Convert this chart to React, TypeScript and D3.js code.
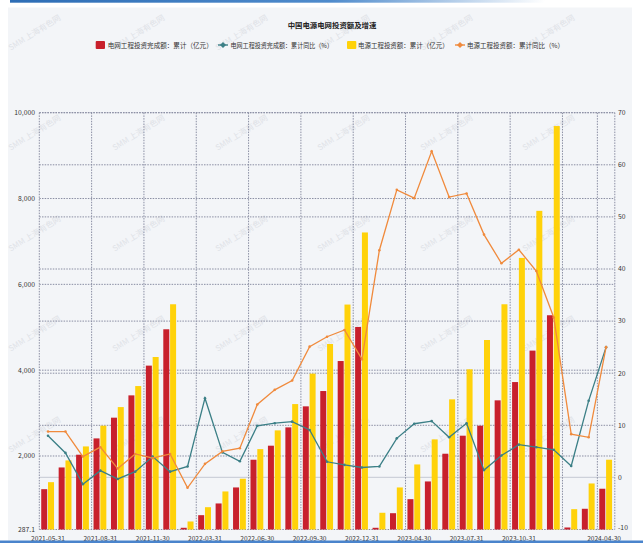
import React from "react";
import * as d3 from "d3";

const categories = [
  "2021-05-31","2021-06-30","2021-07-31","2021-08-31","2021-09-30","2021-10-31","2021-11-30","2021-12-31",
  "2022-02-28","2022-03-31","2022-04-30","2022-05-31","2022-06-30","2022-07-31","2022-08-31","2022-09-30","2022-10-31","2022-11-30","2022-12-31",
  "2023-02-28","2023-03-31","2023-04-30","2023-05-31","2023-06-30","2023-07-31","2023-08-31","2023-09-30","2023-10-31","2023-11-30","2023-12-31",
  "2024-02-29","2024-03-31","2024-04-30",
];

// 电网工程投资完成额：累计（亿元）
const gridInvest = [1227,1733,2030,2410,2893,3413,4106,4953, 327,621,894,1267,1913,2240,2667,3157,3514,4213,5007, 327,667,994,1407,2053,2473,2706,3297,3723,4456,5280, 334,770,1237];
// 电网工程投资完成额：累计同比（%）
const gridYoY = [8.0,4.7,-1.3,1.3,-0.3,1.1,4.0,1.1, 2.1,15.2,4.8,3.1,9.9,10.4,10.7,9.1,3.0,2.4,1.9, 2.1,7.5,10.3,10.8,7.7,10.4,1.4,4.2,6.3,5.8,5.3, 2.2,14.7,25.0];
// 电源工程投资额：累计（亿元）
const powerInvest = [1390,1897,2223,2706,3140,3630,4307,5536, 474,807,1174,1470,2160,2597,3210,3919,4610,5529,7209, 677,1267,1803,2387,3320,4020,4703,5536,6616,7713,9689, 761,1360,1913];
// 电源工程投资额：累计同比（%）
const powerYoY = [8.8,8.8,4.0,5.8,1.7,4.5,3.7,4.5, -2.0,2.6,5.0,5.6,14.0,16.8,18.6,25.1,27.0,28.3,22.7, 43.6,55.2,53.6,62.6,53.8,54.5,46.6,41.1,43.7,39.6,30.7, 8.3,7.7,25.0];

const leftTicks = [287.1, 2000, 4000, 6000, 8000, 10000];
const rightTicks = [-10, 0, 10, 20, 30, 40, 50, 60, 70];
const tickIdx = [0, 3, 6, 9, 12, 15, 18, 21, 24, 27, 30, 32];
const labelIdx = [0, 3, 6, 9, 12, 15, 18, 21, 24, 27, 32];

const title = "中国电源电网投资额及增速";
const legendItems = [
  { name: "电网工程投资完成额：累计（亿元）", type: "bar", color: "#c8202c", x: 95.7, tx: 107.7, tl: 105 },
  { name: "电网工程投资完成额：累计同比（%）", type: "line", color: "#3b7f86", x: 218, tx: 230.5, tl: 102.5 },
  { name: "电源工程投资额：累计（亿元）", type: "bar", color: "#ffd20a", x: 347, tx: 358, tl: 90.6 },
  { name: "电源工程投资额：累计同比（%）", type: "line", color: "#f08a3c", x: 455, tx: 467, tl: 97 },
];

const FONT = '"Noto Sans CJK SC", "Noto Sans", sans-serif';
const RED = "#c8202c";
const YELLOW = "#ffd20a";
const TEAL = "#3b7f86";
const ORANGE = "#f08a3c";
const GRID = "#8a8ea3";

export default function App() {
  const W = 643, H = 543;
  const left = 39.3, right = 614.8, top = 112.7, bottom = 529.5;
  const x = d3.scaleBand<string>().domain(categories).range([left, right]).padding(0);
  const bw = x.bandwidth();
  const yL = d3.scaleLinear().domain([287.1, 10000]).range([bottom, top]);
  const yR = d3.scaleLinear().domain([-10, 70]).range([bottom, top]);
  const cx = (i: number) => (x(categories[i]) as number) + bw / 2;

  const lineGen = d3.line<number>().x((_, i) => cx(i)).y((d) => yR(d));

  const fmt = (v: number) => (v === 287.1 ? "287.1" : d3.format(",")(v));

  const wmX = [36, 140, 243, 345, 448, 550];
  const wmY = [35, 135, 236, 336, 437];

  return (
    <svg width={W} height={H} style={{ position: "absolute", left: 0, top: 0 }} fontFamily={FONT}>
      <defs>
        <linearGradient id="topbar" x1="0" x2="1" y1="0" y2="0">
          <stop offset="0" stopColor="#2d6db5" />
          <stop offset="0.6" stopColor="#4f8bcc" />
          <stop offset="1" stopColor="#4f8bcc" stopOpacity="0" />
        </linearGradient>
      </defs>
      <rect x={0} y={0} width={W} height={H} fill="#ffffff" />
      <rect x={8} y={7.5} width={624} height={533} fill="#f3f5f8" />
      <rect x={10} y={0} width={535} height={2.7} fill="url(#topbar)" />

      {/* watermarks */}
      {wmY.map((wy) =>
        wmX.map((wx) => (
          <text key={`${wx}-${wy}`} x={wx} y={wy} fontSize={8} fill="#c7cad2" opacity={0.45}
            textAnchor="middle" transform={`rotate(-32 ${wx} ${wy})`}>SMM 上海有色网</text>
        ))
      )}

      {/* title */}
      <text x={332} y={27.5} fontSize={7.4} fontWeight="bold" fill="#222" textAnchor="middle">{title}</text>

      {/* legend */}
      {legendItems.map((it) => (
        <g key={it.name}>
          {it.type === "bar" ? (
            <rect x={it.x} y={41} width={9.3} height={8} rx={1} fill={it.color} />
          ) : (
            <g>
              <line x1={it.x} x2={it.x + 10} y1={45} y2={45} stroke={it.color} strokeWidth={1.4} />
              <path d={`M${it.x + 5} 42 L${it.x + 8} 45 L${it.x + 5} 48 L${it.x + 2} 45 Z`} fill={it.color} />
            </g>
          )}
          <text x={it.tx} y={47.8} fontSize={6.8} fill="#333" textLength={it.tl} lengthAdjust="spacingAndGlyphs">{it.name}</text>
        </g>
      ))}

      {/* horizontal grid lines */}
      {leftTicks.filter((t) => t !== 287.1).map((t) => (
        <line key={"gl" + t} x1={left} x2={right} y1={yL(t)} y2={yL(t)} stroke={GRID} strokeWidth={1} strokeDasharray="1.5 1.2" />
      ))}
      {rightTicks.filter((t) => t !== 0 && t !== -10).map((t) => (
        <line key={"gr" + t} x1={left} x2={right} y1={yR(t)} y2={yR(t)} stroke={GRID} strokeWidth={1} strokeDasharray="1.5 1.2" />
      ))}
      <line x1={left} x2={right} y1={yR(0)} y2={yR(0)} stroke="#cdd1da" strokeWidth={1.2} />
      <line x1={left} x2={right} y1={bottom} y2={bottom} stroke={GRID} strokeWidth={1} strokeDasharray="1.5 1.2" />

      {/* vertical grid lines */}
      {tickIdx.map((i) => (
        <line key={"v" + i} x1={x(categories[i]) as number} x2={x(categories[i]) as number} y1={top} y2={bottom}
          stroke={GRID} strokeWidth={1} strokeDasharray="1.5 1.2" />
      ))}
      <line x1={right} x2={right} y1={top} y2={bottom} stroke={GRID} strokeWidth={1} strokeDasharray="1.5 1.2" />

      {/* bars */}
      {categories.map((c, i) => (
        <g key={"b" + c}>
          <rect x={cx(i) - 6.8} width={6} y={yL(gridInvest[i])} height={bottom - yL(gridInvest[i])} fill={RED} />
          <rect x={cx(i) + 0} width={6} y={yL(powerInvest[i])} height={bottom - yL(powerInvest[i])} fill={YELLOW} />
        </g>
      ))}

      {/* lines */}
      <path d={lineGen(gridYoY) || ""} fill="none" stroke={TEAL} strokeWidth={1.3} />
      {gridYoY.map((v, i) => (
        <circle key={"tp" + i} cx={cx(i)} cy={yR(v)} r={1.3} fill={TEAL} />
      ))}
      <path d={lineGen(powerYoY) || ""} fill="none" stroke={ORANGE} strokeWidth={1.3} />
      {powerYoY.map((v, i) => (
        <circle key={"op" + i} cx={cx(i)} cy={yR(v)} r={1.3} fill={ORANGE} />
      ))}

      {/* left axis labels */}
      {leftTicks.map((t) => (
        <text key={"ll" + t} x={35} y={yL(t)} dy="0.35em" fontSize={6.8} fill="#333" textAnchor="end">{fmt(t)}</text>
      ))}
      {/* right axis labels */}
      {rightTicks.map((t) => (
        <text key={"rl" + t} x={618} y={t === -10 ? yR(t) - 1.5 : yR(t)} dy="0.35em" fontSize={6.8} fill="#333" textAnchor="start">{t}</text>
      ))}
      {/* x labels */}
      {labelIdx.map((i) => (
        <text key={"xl" + i} x={i === 32 ? cx(i) - 2 : cx(i)} y={540.8} fontSize={6.6} fill="#333" textAnchor="middle">{categories[i]}</text>
      ))}

      <rect x={0} y={540.5} width={W} height={2.5} fill="#4a84cc" />
    </svg>
  );
}
